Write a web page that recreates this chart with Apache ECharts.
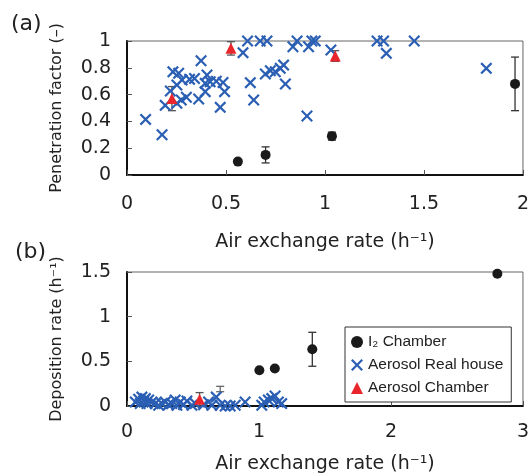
<!DOCTYPE html>
<html>
<head>
<meta charset="utf-8">
<script src="https://cdn.jsdelivr.net/npm/echarts@6/dist/echarts.min.js"></script>
<style>html,body{margin:0;padding:0;background:#fff}#c{width:532px;height:476px}</style>
</head>
<body>
<div id="c"></div>
<script>
// ---- Panel (a): penetration factor ----
const aI2X = [0.56, 0.70, 1.035, 1.96];
const aI2Y = [0.10, 0.15, 0.29, 0.68];
const aI2Err = [0, 0.06, 0.03, 0.20];

const aAerHouseX = [0.094,0.177,0.193,0.219,0.232,0.261,0.252,0.252,0.278,0.274,0.30,0.316,0.341,0.374,0.362,0.404,0.395,0.395,0.42,0.451,0.485,0.493,0.471,0.586,0.609,0.673,0.707,0.623,0.64,0.699,0.724,0.749,0.774,0.791,0.80,0.838,0.859,0.909,0.917,0.934,0.951,1.03,1.263,1.296,1.31,1.451,1.815];
const aAerHouseY = [0.415,0.30,0.52,0.627,0.77,0.759,0.672,0.535,0.709,0.56,0.58,0.714,0.72,0.853,0.567,0.746,0.684,0.622,0.696,0.70,0.69,0.622,0.505,0.913,1.0,1.0,1.0,0.689,0.56,0.754,0.778,0.771,0.796,0.82,0.679,0.957,1.0,0.44,0.957,1.0,1.0,0.933,1.0,1.0,0.908,1.0,0.796];

const aAerChamberX = [0.227, 0.525, 1.052];
const aAerChamberY = [0.57, 0.945, 0.888];
const aAerChamberErr = [0.09, 0.05, 0.04];

// ---- Panel (b): deposition rate ----
const bI2X = [1.003, 1.12, 1.404, 2.806];
const bI2Y = [0.40, 0.42, 0.635, 1.48];
const bI2Err = [0, 0, 0.19, 0];

const bAerHouseX = [0.063,0.088,0.10,0.113,0.126,0.139,0.151,0.164,0.189,0.214,0.24,0.265,0.29,0.315,0.34,0.365,0.378,0.403,0.429,0.454,0.492,0.517,0.58,0.618,0.643,0.676,0.706,0.744,0.782,0.82,0.895,1.021,1.039,1.071,1.097,1.122,1.147,1.172];
const bAerHouseY = [0.045,0.076,0.027,0.10,0.056,0.083,0.027,0.067,0.045,0.027,0.008,0.027,0.045,0.015,0.027,0.067,0.008,0.045,0.015,0.056,0.008,0.027,0.015,0.045,0.008,0.10,0.008,0.0,0.0,0.008,0.045,0.008,0.045,0.067,0.083,0.112,0.045,0.027];

const bAerChamberX = [0.55];
const bAerChamberY = [0.075];
const bAerChamberErr = [0.075];

// error bar without visible marker
const bExtraErrX = [0.706];
const bExtraErrY = [0.19];
const bExtraErrE = [0.03];

const xTicksA = [0, 0.5, 1, 1.5, 2];
const yTicksA = [0, 0.2, 0.4, 0.6, 0.8, 1];
const xTicksB = [0, 1, 2, 3];
const yTicksB = [0, 0.5, 1, 1.5];

const seriesNames = ['I\u2082 Chamber', 'Aerosol Real house', 'Aerosol Chamber'];

const FONT = '"DejaVu Sans", sans-serif';
const LFONT = '"Liberation Sans", Arial, sans-serif';
const BLUE = '#2b5fb4';
const RED = '#e8262b';
const BLACK = '#1a1a1a';
const CROSS = 'path://M0,1.3L1.3,0L5,3.7L8.7,0L10,1.3L6.3,5L10,8.7L8.7,10L5,6.3L1.3,10L0,8.7L3.7,5Z';

const zip = (xs, ys) => xs.map((x, i) => [x, ys[i]]);
const zip3 = (xs, ys, es) => xs.map((x, i) => [x, ys[i], es[i]]).filter(d => d[2] > 0);

function errSeries(idx, data, color) {
  return {
    type: 'custom', xAxisIndex: idx, yAxisIndex: idx, silent: true, z: 1,
    data: data,
    renderItem: function (params, api) {
      const x = api.value(0), y = api.value(1), e = api.value(2);
      const lo = api.coord([x, y - e]);
      const hi = api.coord([x, y + e]);
      const w = 4;
      const st = { stroke: color, lineWidth: 1.3 };
      return {
        type: 'group',
        children: [
          { type: 'line', shape: { x1: lo[0], y1: lo[1], x2: hi[0], y2: hi[1] }, style: st },
          { type: 'line', shape: { x1: lo[0] - w, y1: lo[1], x2: lo[0] + w, y2: lo[1] }, style: st },
          { type: 'line', shape: { x1: hi[0] - w, y1: hi[1], x2: hi[0] + w, y2: hi[1] }, style: st }
        ]
      };
    }
  };
}

function mkX(idx, ticks, name, labelMargin, nameGap) {
  return {
    type: 'value', gridIndex: idx, min: ticks[0], max: ticks[ticks.length - 1],
    interval: ticks[1] - ticks[0],
    name: name, nameLocation: 'middle', nameGap: nameGap,
    nameTextStyle: { fontFamily: FONT, fontSize: 19, color: '#222' },
    axisLine: { show: true, onZero: false, lineStyle: { color: '#111', width: 2 } },
    axisTick: { show: true, inside: true, length: 5, lineStyle: { color: '#555' } },
    axisLabel: { fontFamily: FONT, fontSize: 19, color: '#222', margin: labelMargin },
    splitLine: { show: false }
  };
}
function mkY(idx, ticks, name) {
  return {
    type: 'value', gridIndex: idx, min: ticks[0], max: ticks[ticks.length - 1],
    interval: ticks[1] - ticks[0],
    name: name, nameLocation: 'middle', nameGap: 62, nameRotate: 90,
    nameTextStyle: { fontFamily: FONT, fontSize: 16, color: '#222' },
    axisLine: { show: true, onZero: false, lineStyle: { color: '#111', width: 2 } },
    axisTick: { show: true, inside: true, length: 5, lineStyle: { color: '#555' } },
    axisLabel: { fontFamily: FONT, fontSize: 19, color: '#222', margin: 16 },
    splitLine: { show: false }
  };
}

const chart = echarts.init(document.getElementById('c'), null, { renderer: 'canvas' });
chart.setOption({
  animation: false,
  backgroundColor: '#fff',
  title: [
    { text: '(a)', left: 6, top: 8, textStyle: { fontFamily: FONT, fontSize: 22, fontWeight: 'normal', color: '#222' } },
    { text: '(b)', left: 10, top: 236, textStyle: { fontFamily: FONT, fontSize: 22, fontWeight: 'normal', color: '#222' } }
  ],
  grid: [
    { left: 127, top: 41, width: 396, height: 134, show: true, borderColor: '#666', borderWidth: 1 },
    { left: 127, top: 272, width: 396, height: 134, show: true, borderColor: '#666', borderWidth: 1 }
  ],
  xAxis: [
    mkX(0, xTicksA, 'Air exchange rate (h\u207B\u00B9)', 20, 58),
    mkX(1, xTicksB, 'Air exchange rate (h\u207B\u00B9)', 17, 49)
  ],
  yAxis: [
    mkY(0, yTicksA, 'Penetration factor (\u2013)'),
    mkY(1, yTicksB, 'Deposition rate (h\u207B\u00B9)')
  ],
  legend: {
    left: 345, top: 327, width: 166, height: 72,
    orient: 'vertical', itemGap: 7, itemWidth: 12, itemHeight: 12,
    padding: [7, 8, 6, 6],
    borderColor: '#333', borderWidth: 1, backgroundColor: '#fff',
    textStyle: { fontFamily: LFONT, fontSize: 15.5, color: '#222' },
    data: [
      { name: seriesNames[0], icon: 'circle', itemStyle: { color: BLACK, opacity: 1 } },
      { name: seriesNames[1], icon: CROSS, itemStyle: { color: BLUE, opacity: 1 } },
      { name: seriesNames[2], icon: 'triangle', itemStyle: { color: RED, opacity: 1 } }
    ]
  },
  series: [
    errSeries(0, zip3(aI2X, aI2Y, aI2Err), '#333'),
    errSeries(0, zip3(aAerChamberX, aAerChamberY, aAerChamberErr), '#555'),
    errSeries(1, zip3(bI2X, bI2Y, bI2Err), '#333'),
    errSeries(1, zip3(bAerChamberX, bAerChamberY, bAerChamberErr), '#555'),
    errSeries(1, zip3(bExtraErrX, bExtraErrY, bExtraErrE), '#666'),
    { name: seriesNames[1], type: 'scatter', xAxisIndex: 0, yAxisIndex: 0, symbol: CROSS, symbolSize: 12, z: 3,
      itemStyle: { color: BLUE, opacity: 1 }, data: zip(aAerHouseX, aAerHouseY) },
    { name: seriesNames[0], type: 'scatter', xAxisIndex: 0, yAxisIndex: 0, symbol: 'circle', symbolSize: 10, z: 4,
      itemStyle: { color: BLACK, opacity: 1 }, data: zip(aI2X, aI2Y) },
    { name: seriesNames[2], type: 'scatter', xAxisIndex: 0, yAxisIndex: 0, symbol: 'triangle', symbolSize: 11, z: 5,
      itemStyle: { color: RED, opacity: 1 }, data: zip(aAerChamberX, aAerChamberY) },
    { name: seriesNames[1], type: 'scatter', xAxisIndex: 1, yAxisIndex: 1, symbol: CROSS, symbolSize: 12, z: 3,
      itemStyle: { color: BLUE, opacity: 1 }, data: zip(bAerHouseX, bAerHouseY) },
    { name: seriesNames[0], type: 'scatter', xAxisIndex: 1, yAxisIndex: 1, symbol: 'circle', symbolSize: 10, z: 4,
      itemStyle: { color: BLACK, opacity: 1 }, data: zip(bI2X, bI2Y) },
    { name: seriesNames[2], type: 'scatter', xAxisIndex: 1, yAxisIndex: 1, symbol: 'triangle', symbolSize: 11, z: 5,
      itemStyle: { color: RED, opacity: 1 }, data: zip(bAerChamberX, bAerChamberY) }
  ]
});
</script>
</body>
</html>
